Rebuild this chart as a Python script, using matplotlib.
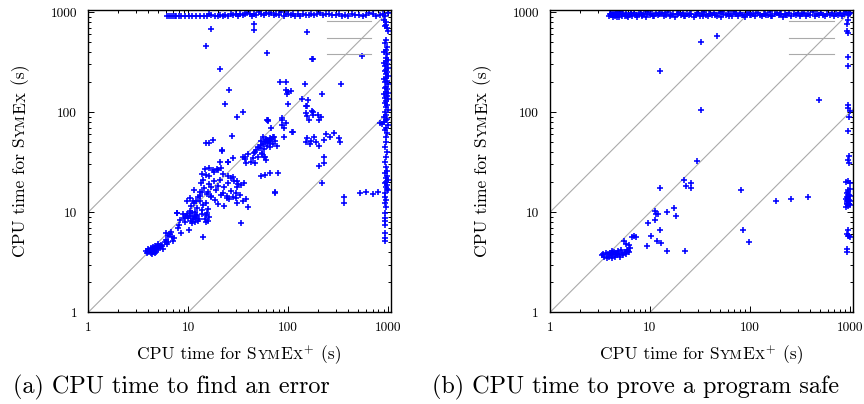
import matplotlib
matplotlib.use("Agg")
import matplotlib.pyplot as plt
from matplotlib.transforms import IdentityTransform
from matplotlib.ticker import FixedLocator, NullFormatter

plt.rcParams['font.family'] = ['cmr10', 'DejaVu Serif']
plt.rcParams['mathtext.fontset'] = 'cm'
plt.rcParams['axes.unicode_minus'] = False
plt.rcParams['axes.formatter.use_mathtext'] = True

# ---------------- data: (a) CPU time to find an error ----------------
a_band_x = [6.1, 6.4, 6.7, 7.0, 7.3, 7.6, 8.0, 8.5, 9.3, 10.2, 11.0, 12.0, 13.0, 14.4, 15.5, 16.3,
            17.0, 18.5, 19.8, 21, 22.5, 23.5, 25, 26.5, 28, 30, 31.5, 33, 35, 37, 39, 41, 43, 45,
            48, 51, 54, 57, 60, 64, 68, 72, 76, 80, 85, 90, 95, 100, 106, 112, 118, 125, 132, 140,
            150, 160, 170, 182, 195, 210, 225, 240, 258, 275, 300, 320, 345, 370, 400, 430, 470,
            510, 560, 600, 650, 700, 760, 820, 880, 940, 1000]
a_band_y = [905, 905, 905, 905, 905, 905, 905, 905, 905, 905, 905, 905, 905, 905, 920, 960,
            940, 910, 905, 930, 920, 940, 915, 955, 930, 945, 915, 960, 935, 950, 980, 945, 920, 960,
            940, 990, 955, 925, 975, 945, 985, 930, 960, 940, 990, 920, 945, 965, 930, 950, 915, 945,
            920, 960, 935, 925, 950, 935, 960, 985, 930, 955, 945, 925, 940, 960, 915, 935, 920,
            945, 925, 940, 910, 930, 980, 950, 915, 935, 955, 920, 970]
a_col_x = [900, 950, 960, 930, 970, 990, 950, 920, 980, 960, 900, 980, 950, 990, 960, 900, 980,
           940, 990, 960, 920, 980, 950, 1000, 960, 900, 980, 940, 990, 960, 920, 980, 950, 1000,
           900, 970, 940, 990, 960, 920, 980, 950, 1000, 930, 960, 900, 980, 950, 910, 830, 870,
           990, 960, 930, 980, 950, 960, 940, 980, 950, 930, 960, 980, 940, 970, 950, 990, 960,
           930, 980, 950, 970, 990, 940, 920, 960, 930, 950, 930, 940, 920, 930, 930, 940, 920]
a_col_y = [838, 790, 748, 720, 693, 643, 531, 492, 450, 422, 400, 380, 349, 335, 324, 310, 300,
           290, 278, 265, 258, 250, 239, 230, 220, 213, 205, 198, 190, 180, 175, 169, 160, 155,
           151, 145, 138, 134, 128, 122, 119, 112, 106, 100, 94, 90, 86, 84, 80, 78, 76,
           75, 70, 66, 62, 57, 50, 45, 40, 36, 32, 28.5, 26, 24.4, 23, 22, 21, 20,
           19.4, 18.5, 18, 17, 16.6, 15.4, 14.3, 13.2, 12.3, 11.4, 9.8, 8.7, 8.1, 7.5, 6.2, 5.5, 5.1]
a_diag_x = [3.8, 3.9, 4.0, 4.0, 4.1, 4.2, 4.2, 4.3, 4.3, 4.4, 4.4, 4.5, 4.5, 4.6, 4.6, 4.7, 4.8,
            4.8, 4.9, 5.0, 5.0, 5.1, 5.2, 5.3, 5.5, 5.6,
            5.8, 6.0, 6.2, 6.5, 6.0, 6.8, 7.0, 6.3, 6.7, 7.2, 6.1,
            7.7, 8.0, 8.5, 10.1, 14, 34, 8.3, 9.0, 9.3, 7.9,
            9.7, 10.0, 10.3, 10.6, 10.9, 11.1, 11.4, 11.6, 11.9, 12.2, 12.5, 10.5, 11.8, 12.8, 11.0,
            14.7, 15.2, 15.8, 16.3, 15.5, 14.9,
            10.7, 11.5, 12.3, 13.2, 14.0, 15.0, 15.9, 13.6, 12.0,
            13, 13.8, 14.5, 15.4, 16.2, 17.0, 18, 19.0, 20.0, 20.8, 13.5, 14.2, 16.8,
            18.5, 20, 21.5, 23, 24.5, 22.2,
            23, 25, 27, 29, 31, 33, 35, 36, 37.5, 39.5, 28, 30.5,
            23.2, 30.5, 35.7, 60.9, 62.5, 100, 153, 86, 95, 90, 111, 27.7, 15.2, 16.2, 17.5, 21.6,
            46, 48, 50, 52, 54, 56, 58, 60, 62, 64, 66, 68, 70, 72, 55, 58, 60, 50, 62, 66, 53, 57,
            35, 37, 40, 42, 44, 46, 38, 25, 21,
            14.7, 16, 17.5, 19.3, 21.5,
            13.6, 15.0, 16.3, 18, 19.8, 22.5, 24.8, 26.5, 28, 30.5, 33.5, 31.5,
            11.4, 12.5, 10.5, 11.2, 9.8, 13.2, 15.8, 17, 24.3, 25.7, 30, 30, 73.6,
            7.8, 8.9, 9.5, 10.5, 12, 13.8,
            54, 59, 66, 79,
            45.4, 45.4, 17, 14.9, 60.8, 153, 172, 178, 550, 20.7, 25.3, 82.6, 95.3, 94, 100, 107, 98,
            137, 147, 158, 151, 216, 337,
            150, 155, 172, 178, 175, 200, 215, 204, 160, 86, 86, 63, 67, 110, 90,
            56, 60, 63, 66, 70, 74, 77, 65,
            150, 155, 170, 180, 190, 165,
            230, 240, 260, 285, 320, 330,
            204, 204, 229, 229, 21.6, 25, 28, 36.9, 45, 57, 55,
            74, 220, 362, 362, 520, 600, 700, 800]
a_diag_y = [4.1, 3.9, 4.0, 4.3, 4.1, 3.9, 4.4, 4.2, 3.8, 4.0, 4.5, 4.3, 4.1, 3.95, 4.6, 4.4, 4.2,
            4.0, 4.5, 4.3, 4.8, 4.6, 4.4, 4.7, 4.6, 4.3,
            5.0, 5.3, 5.8, 6.0, 6.2, 5.6, 5.2, 5.0, 6.3, 5.5, 4.8,
            9.8, 7.4, 6.2, 6.6, 5.7, 7.8, 8.3, 8.8, 7.9, 7.0,
            9.5, 8.7, 9.2, 8.2, 9.8, 8.5, 9.0, 7.9, 8.8, 9.4, 8.1, 10.2, 10.0, 8.6, 7.8,
            8.5, 9.3, 8.1, 9.0, 9.8, 8.0,
            11.5, 12.3, 11.0, 12.8, 11.8, 12.5, 10.8, 10.5, 13.0,
            14.5, 16, 17.5, 15.2, 19.0, 14.2, 20.5, 16.5, 18.3, 21.0, 19.5, 20.8, 18.0,
            13.2, 12.0, 14.8, 11.5, 13.8, 15.5,
            17.8, 19.5, 16.2, 20.4, 18.0, 14.7, 13.0, 19.8, 13.5, 11.2, 14.2, 12.5,
            121, 89, 99.5, 83, 81, 121, 116, 83, 77, 70, 64, 58, 49.5, 49.5, 53, 41,
            40, 42, 45, 44, 47, 48, 50, 52, 53, 51, 55, 54, 57, 56, 38, 36, 33, 36, 46, 49, 51, 43,
            36, 34, 38, 32, 35, 31, 31, 31.6, 32,
            27, 27.5, 26.3, 27, 27.5,
            24, 23.5, 22.8, 25.2, 26.2, 24.0, 23.0, 21.8, 22.5, 20.5, 18.5, 19.2,
            16.5, 14.2, 14, 12.8, 12.8, 15.8, 16.0, 14.5, 14.5, 13.6, 15.5, 14, 15.7,
            9.8, 9.5, 9.2, 9.8, 9.2, 9.6,
            23, 23.5, 24.4, 24.8,
            764, 655, 676, 453, 389, 631, 339, 339, 366, 267, 167, 199.5, 200, 167, 160, 163, 150,
            135, 189, 133, 116, 152, 190,
            99, 92, 103, 101, 93, 93, 90, 83, 83, 88, 75, 83, 69, 63, 56,
            56, 54, 50, 53, 48, 52, 46, 45,
            50, 55, 52, 57, 50, 48,
            53, 60, 56, 62, 55, 50,
            45.4, 29, 36, 31, 42, 32, 35, 36, 39, 36, 39,
            16, 19.8, 14.1, 12.3, 15.5, 15.8, 15.2, 16]

# ---------------- data: (b) CPU time to prove a program safe ----------------
b_band_x = [3.9, 4.0, 4.1, 4.2, 4.3, 4.4, 4.5, 4.6, 4.7, 4.8, 4.9, 5.0, 5.2, 5.4, 5.6, 5.8, 6.0,
            6.2, 6.4, 6.6, 6.9, 7.2, 7.5, 7.8, 8.1, 8.4, 8.8, 9.2, 9.6, 10, 10.5, 11, 11.5, 12,
            12.6, 13.2, 13.8, 14.5, 15.2, 16, 16.8, 17.6, 18.5, 19.4, 20.4, 21.4, 22.5, 23.6, 24.8,
            26, 27.3, 28.7, 30, 31.5, 33, 34.7, 36.4, 38.2, 40, 42, 44, 46.5, 49, 51.5, 54, 57, 60,
            63, 66, 69.5, 73, 76.5, 80, 84, 88.5, 93, 98, 103, 108, 113, 119, 125, 131, 138, 145,
            152, 160, 168, 176, 185, 194, 204, 214, 225, 236, 248, 260, 273, 287, 301, 316, 332,
            349, 366, 384, 403, 423, 444, 466, 490, 514, 540, 567, 595, 625, 656, 689, 723, 759,
            797, 837, 879, 923, 969, 1000,
            4.25, 4.55, 4.85, 5.3, 5.9, 6.5, 7.35, 8.25, 9.4, 10.8, 12.3, 14.1, 16.4, 19.0, 22.0,
            25.4, 29.3, 33.8, 39.1, 45.2, 52.7, 61.5, 71.7, 86.2, 100.5, 116, 141, 164, 199, 231]
b_band_y = [905, 960, 925, 985, 895, 945, 915, 975, 900, 955, 930, 990, 910, 950, 920, 980, 900,
            940, 965, 915, 985, 930, 900, 955, 975, 920, 945, 895, 990, 935, 960, 905, 980, 925,
            950, 970, 910, 940, 990, 920, 960, 900, 945, 975, 930, 985, 910, 955, 925,
            965, 900, 940, 980, 915, 950, 990, 930, 905, 960, 940, 975, 920, 985, 900, 950, 930, 945,
            965, 910, 990, 945, 920, 970, 935, 900, 955, 985, 925, 945, 905, 975, 940, 915, 960, 930,
            930, 990, 910, 950, 975, 925, 945, 900, 965, 935, 985, 915, 955, 930, 970, 905, 945,
            980, 920, 960, 935, 990, 910, 950, 925, 975, 940, 905, 965, 930, 985, 915, 955, 935,
            970, 920, 945, 990, 960, 975,
            930, 970, 900, 950, 915, 985, 940, 925, 965, 905, 950, 980, 930, 960, 910,
            945, 975, 920, 955, 935, 990, 915, 960, 940, 925, 970, 945, 905, 955, 930]
b_col_x = [950, 960, 930, 940, 960, 950, 960, 950, 960, 990, 970, 960, 970, 960, 980, 960, 990,
           1000, 950, 930, 970, 990, 940, 960, 920, 980, 950, 1000, 930, 970, 940, 990, 960, 920,
           950, 980, 940, 960, 920, 960, 930, 970, 990, 950, 930, 930]
b_col_y = [944, 838, 764, 643, 620, 355, 290, 117, 110, 103, 89, 65.5, 36.8, 33.6, 31.2, 20.5, 19.4,
           17, 16, 15.5, 15, 14.5, 14.2, 14, 13.6, 13.3, 13, 12.8, 12.5, 12.2, 12, 11.8, 11.5, 11.2,
           14.8, 12, 13, 16.5, 20, 6.6, 6.1, 5.8, 5.6, 5.8, 4.3, 4.0]
b_diag_x = [3.3, 3.5, 3.6, 3.7, 3.8, 3.9, 4.0, 4.1, 4.2, 4.3, 4.4, 4.5, 4.6, 4.7, 4.8, 4.9, 5.0,
            5.2, 5.4, 5.6, 5.8, 6.0, 6.2, 3.4, 4.2, 5.1,
            5.5, 5.7, 6.1, 6.3, 5.9,
            6.6, 7.0, 7.3, 9.5, 10.2, 9.4, 11.2, 11.6, 12.1, 11.2, 11.8, 12.9, 12.6, 14.8, 17.3,
            18.4, 14.8, 22.6, 12.5, 22, 23, 26, 26, 29.5, 32.6, 12.5, 32.1, 46.8, 486, 80.5, 85,
            98, 183, 259, 380]
b_diag_y = [3.7, 3.6, 3.9, 3.5, 3.8, 3.6, 3.9, 3.7, 3.5, 3.8, 4.0, 3.6, 3.9, 3.7, 4.1, 3.8, 3.6,
            3.9, 3.7, 4.0, 3.8, 4.1, 4.0, 3.8, 4.1, 4.2,
            5.1, 4.8, 4.7, 4.4, 4.2,
            5.7, 5.8, 5.6, 7.76, 5.8, 4.6, 10.2, 9.7, 9.7, 8.4, 5.2, 4.9, 6.6, 10, 11,
            9.1, 4.1, 4.1, 17.4, 20.8, 18.2, 19.5, 17.5, 32.4, 104, 257, 501, 580, 131, 16.6, 6.6,
            5.0, 12.8, 13.5, 14.1]

diag_x = [1, 1100]
diag_factors = [10, 1, 0.1]
tick_vals = [1, 10, 100, 1000]
tick_labels = ['1', '10', '100', '1000']

W, H = 864, 404
fig = plt.figure(figsize=(W / 100, H / 100), dpi=100)

def px_axes(x0, x1, ytop, ybot):
    return fig.add_axes([x0 / W, (H - ybot) / H, (x1 - x0) / W, (ybot - ytop) / H])

ax_a = px_axes(88.3, 390.7, 9.5, 312.3)
ax_b = px_axes(550.0, 853.3, 9.5, 312.3)

panels = [
    (ax_a, a_band_x + a_col_x + a_diag_x, a_band_y + a_col_y + a_diag_y, 1060),
    (ax_b, b_band_x + b_col_x + b_diag_x, b_band_y + b_col_y + b_diag_y, 1080),
]
gray = '#aaaaaa'
minor_vals = [m * 10 ** e for e in range(0, 3) for m in range(2, 10)]

for ax, xs, ys, xmax in panels:
    handles = []
    for f in diag_factors:
        ln, = ax.plot(diag_x, [v * f for v in diag_x], color=gray, lw=0.8, zorder=1)
        handles.append(ln)
    ax.plot(xs, ys, linestyle='none', marker='+', color='#0000ff', markersize=4.6,
            markeredgewidth=1.15, zorder=2)
    ax.set_xscale('log')
    ax.set_yscale('log')
    ax.set_xlim(1, xmax)
    ax.set_ylim(1, 1060)
    for axis in (ax.xaxis, ax.yaxis):
        axis.set_major_locator(FixedLocator(tick_vals))
        axis.set_minor_locator(FixedLocator(minor_vals))
        axis.set_minor_formatter(NullFormatter())
    ax.set_xticklabels(tick_labels)
    ax.set_yticklabels(tick_labels)
    ax.tick_params(which='both', direction='in', top=True, right=True, labelsize=9.6)
    ax.tick_params(which='major', length=4.5, width=0.7)
    ax.tick_params(which='minor', length=2.0, width=0.7)
    ax.tick_params(axis='x', pad=7)
    ax.tick_params(axis='y', pad=8)
    for sp in ax.spines.values():
        sp.set_linewidth(1.0)
    leg = ax.legend(handles, ['', '', ''], loc='upper right', frameon=False,
                    handlelength=3.2, handletextpad=0.0, borderpad=0.0, borderaxespad=0.0,
                    labelspacing=0.27, fontsize=10, bbox_to_anchor=(1 - 19.5 / 303, 1 - 7.0 / 303))

renderer = fig.canvas.get_renderer()

def pieced_text(pieces, fixed, center, rotation=0):
    texts, widths = [], []
    for s, fs, gap in pieces:
        t = fig.text(0, 0, s, fontsize=fs, transform=IdentityTransform(), ha='left',
                     va='baseline', rotation=rotation, rotation_mode='anchor')
        bb = t.get_window_extent(renderer)
        texts.append(t)
        widths.append((bb.width if rotation == 0 else bb.height) + gap)
    start = center - sum(widths) / 2
    for t, w in zip(texts, widths):
        if rotation == 0:
            t.set_position((start, fixed))
        else:
            t.set_position((fixed, start))
        start += w

LS = 12.6
SC = LS * 0.78
xlab = [("CPU time for S", LS, 0.5), ("YM", SC, 0.3), ("E", LS, 0.3), ("X", SC, 0.3),
        ("$^{+}$", LS, 0.0), (" (s)", LS, 0.0)]
ylab = [("CPU time for S", LS, 0.5), ("YM", SC, 0.3), ("E", LS, 0.3), ("X", SC, 0.0),
        (" (s)", LS, 0.0)]

for ax in (ax_a, ax_b):
    pos = ax.get_position()
    cx = (pos.x0 + pos.x1) / 2 * W
    cy = (pos.y0 + pos.y1) / 2 * H
    pieced_text(xlab, 45.0, cx)
    pieced_text(ylab, pos.x0 * W - 63.0, cy, rotation=90)

fig.text(13.3, 10.7, "(a) CPU time to find an error", fontsize=17.4,
         transform=IdentityTransform(), ha='left', va='baseline')
fig.text(432.0, 10.7, "(b) CPU time to prove a program safe", fontsize=17.4,
         transform=IdentityTransform(), ha='left', va='baseline')

fig.savefig("out.png", dpi=100)
